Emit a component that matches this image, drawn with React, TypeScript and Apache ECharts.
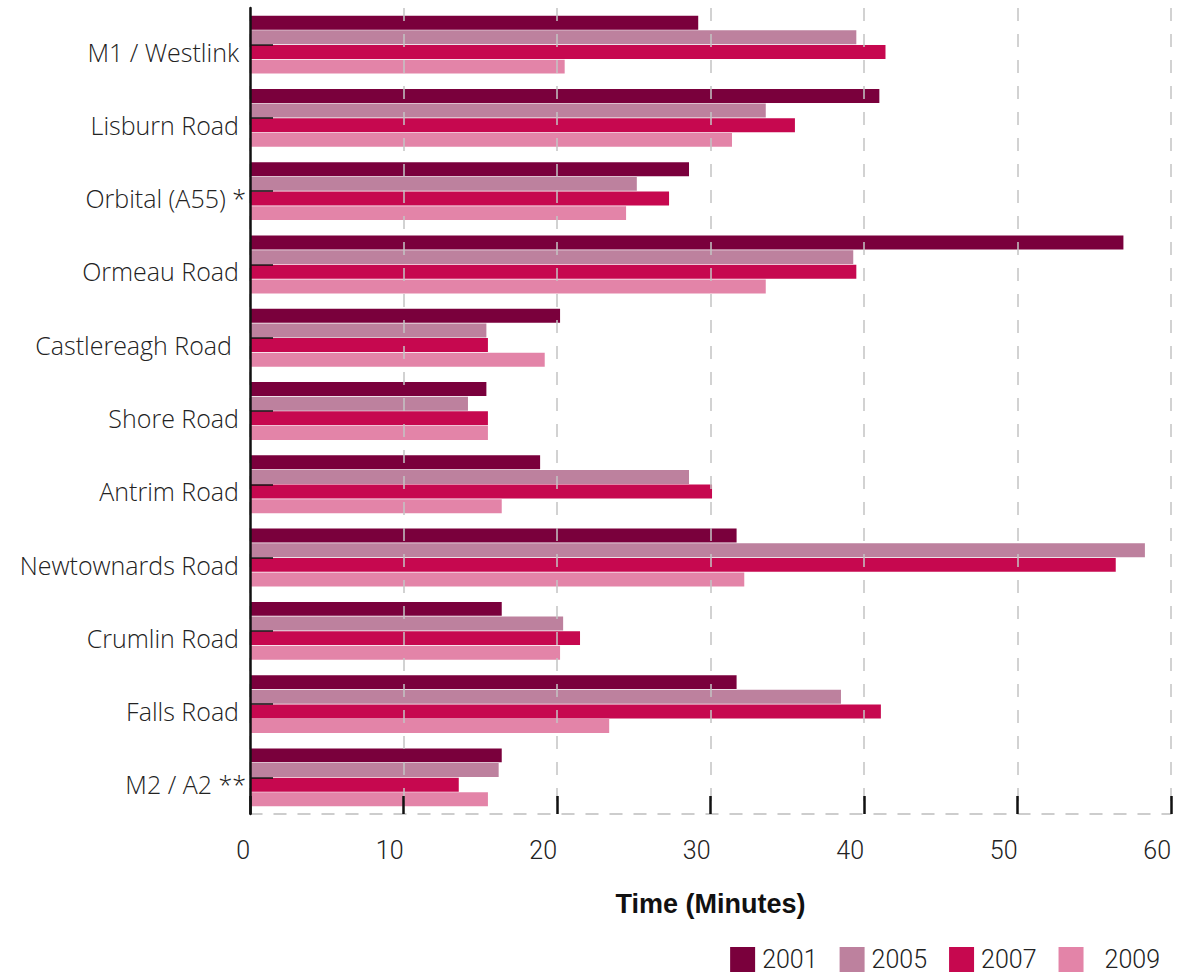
import React, { useEffect, useRef } from "react";
import * as echarts from "echarts";

// Journey times on Belfast's main commuter routes, in minutes
const routes = [
  "M1 / Westlink",
  "Lisburn Road",
  "Orbital (A55) *",
  "Ormeau Road",
  "Castlereagh Road",
  "Shore Road",
  "Antrim Road",
  "Newtownards Road",
  "Crumlin Road",
  "Falls Road",
  "M2 / A2 **",
];
const years = ["2001", "2005", "2007", "2009"];
const time2001 = [29.2, 41.0, 28.6, 56.9, 20.2, 15.4, 18.9, 31.7, 16.4, 31.7, 16.4];
const time2005 = [39.5, 33.6, 25.2, 39.3, 15.4, 14.2, 28.6, 58.3, 20.4, 38.5, 16.2];
const time2007 = [41.4, 35.5, 27.3, 39.5, 15.5, 15.5, 30.1, 56.4, 21.5, 41.1, 13.6];
const time2009 = [20.5, 31.4, 24.5, 33.6, 19.2, 15.5, 16.4, 32.2, 20.2, 23.4, 15.5];
const xMin = 0;
const xMax = 60;
const xStep = 10;

const seriesValues = [time2001, time2005, time2007, time2009];
const colors = ["#7a003c", "#bd819e", "#c6084f", "#e384a8"];
const LABEL_FONT = "'Open Sans', Roboto, sans-serif";
const TICK_FONT = "Roboto, 'Open Sans', sans-serif";

// shared style of the route names: set a little below the band centre
const routeLabelStyle = {
  fontSize: 25,
  color: "#222",
  fontWeight: 300,
  fontFamily: LABEL_FONT,
  verticalAlign: "top",
  lineHeight: 14,
};

export default function App() {
  const ref = useRef<HTMLDivElement>(null);

  useEffect(() => {
    if (!ref.current) return;
    const chart = echarts.init(ref.current, undefined, { renderer: "svg" });

    // starred routes hang closer to the axis, Castlereagh sits slightly further out
    const categoryData = routes.map((r) => {
      if (r.endsWith("*")) return { value: r, textStyle: { ...routeLabelStyle, padding: [0, -7, 0, 0] } };
      if (r === "Castlereagh Road") return { value: r, textStyle: { ...routeLabelStyle, padding: [0, 7, 0, 0] } };
      return r;
    });

    chart.setOption({
      animation: false,
      backgroundColor: "#ffffff",
      textStyle: { fontFamily: LABEL_FONT },
      grid: { left: 250, right: 9, top: 8, bottom: 159, containLabel: false },
      legend: {
        right: 15,
        top: 942,
        icon: "rect",
        itemWidth: 25,
        itemHeight: 25,
        itemGap: 22,
        textStyle: { fontSize: 25, color: "#222", fontFamily: TICK_FONT, fontWeight: 300, padding: [0, 0, 0, 2] },
        data: years.map((y, i) =>
          i === 3 ? { name: y, textStyle: { padding: [0, 0, 0, 16] } } : { name: y }
        ),
      },
      xAxis: {
        type: "value",
        min: xMin,
        max: xMax,
        interval: xStep,
        z: 5,
        name: "Time (Minutes)",
        nameLocation: "middle",
        nameGap: 76,
        nameTextStyle: { fontSize: 27, fontWeight: "bold", color: "#111", fontFamily: "'Liberation Sans', Arial, sans-serif" },
        axisLine: { show: true, lineStyle: { color: "#bdbdbd", width: 1.5, type: [12, 12] } },
        axisTick: { show: true, inside: true, length: 18, lineStyle: { color: "#111", width: 2.5 } },
        axisLabel: {
          fontSize: 25,
          color: "#222",
          fontWeight: 300,
          fontFamily: TICK_FONT,
          align: "right",
          margin: 24,
        },
        splitLine: { show: true, lineStyle: { color: "#c4c4c4", width: 1.5, type: [13, 13] } },
      },
      yAxis: {
        type: "category",
        data: categoryData,
        inverse: true,
        z: 6,
        axisLine: { show: true, lineStyle: { color: "#111", width: 2.5 } },
        axisTick: { show: true, inside: true, alignWithLabel: true, length: 23, lineStyle: { color: "#111", width: 1.5 } },
        axisLabel: { ...routeLabelStyle, margin: 11 },
        splitLine: { show: false },
      },
      series: years.map((y, i) => ({
        name: y,
        type: "bar",
        data: seriesValues[i],
        itemStyle: { color: colors[i] },
        barCategoryGap: "21%",
        barGap: "5%",
      })),
    });

    return () => chart.dispose();
  }, []);

  return (
    <div
      ref={ref}
      style={{ position: "absolute", left: 0, top: 0, width: 1180, height: 973 }}
    />
  );
}
